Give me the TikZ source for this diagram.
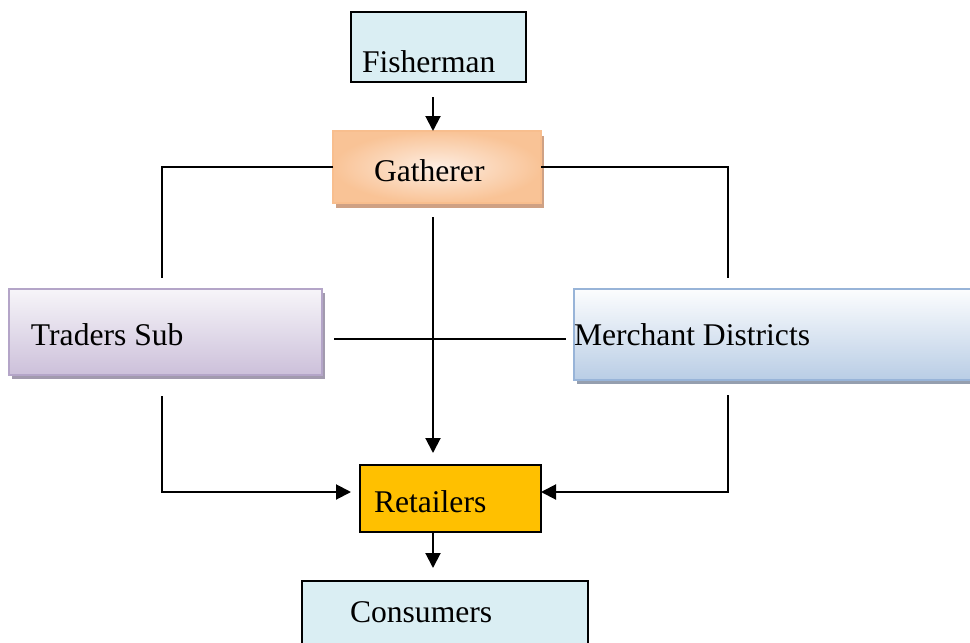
\documentclass[tikz,border=0pt]{standalone}
\usepackage{fontspec}
\setmainfont{Liberation Serif}
\usetikzlibrary{arrows.meta,shadows}
\definecolor{paleblue}{HTML}{DAEEF3}
\definecolor{retailgold}{HTML}{FFC000}
\definecolor{peachline}{HTML}{F8BE8E}
\definecolor{peachin}{HTML}{FDEDE1}
\definecolor{peachout}{HTML}{F9C396}
\definecolor{peachshadow}{HTML}{CFA184}
\definecolor{lilacline}{HTML}{B4A5C8}
\definecolor{lilactop}{HTML}{F7F5F9}
\definecolor{lilacbot}{HTML}{CCC0DA}
\definecolor{lilacshadow}{HTML}{A29AAE}
\definecolor{steelline}{HTML}{98B4D8}
\definecolor{steeltop}{HTML}{FCFDFE}
\definecolor{steelbot}{HTML}{B9CDE5}
\definecolor{steelshadow}{HTML}{959FAF}
\tikzstyle{every picture}+=[x=0.5pt,y=-0.5pt]
\tikzstyle{every picture}+=[>={Triangle[length=7.5pt,width=7.5pt]}]
\tikzstyle{every picture}+=[line width=1pt]
\tikzstyle{every picture}+=[join=miter]
\tikzstyle{stage}=[rectangle, inner sep=0pt, outer sep=0pt, line width=0.75pt]
\tikzstyle{pale}=[stage, draw=black, fill=paleblue]
\tikzstyle{gold}=[stage, draw=black, fill=retailgold]
\tikzstyle{peach}=[stage, draw=peachline, inner color=peachin, outer color=peachout]
\tikzstyle{peach}+=[drop shadow={shadow xshift=1.5pt, shadow yshift=-2.5pt, fill=peachshadow, opacity=1}]
\tikzstyle{lilac}=[stage, draw=lilacline, top color=lilactop, bottom color=lilacbot]
\tikzstyle{lilac}+=[drop shadow={shadow xshift=1.5pt, shadow yshift=-2pt, fill=lilacshadow, opacity=1}]
\tikzstyle{steel}=[stage, draw=steelline, top color=steeltop, bottom color=steelbot]
\tikzstyle{steel}+=[drop shadow={shadow xshift=1.5pt, shadow yshift=-2pt, fill=steelshadow, opacity=1}]
\tikzstyle{word}=[inner sep=0pt, anchor=base west, font=\fontsize{15.8}{19}\selectfont]

\begin{document}
\begin{tikzpicture}
\useasboundingbox (0,0) rectangle (970,643);

\node[pale, minimum width=87.5pt, minimum height=35pt] (fish) at (438.5,47) {};
\node[peach, minimum width=104pt, minimum height=36pt] (gath) at (437,167) {};
\node[lilac, minimum width=156.5pt, minimum height=43pt] (trad) at (165.5,332) {};
\node[steel, minimum width=205pt, minimum height=45.5pt] (merc) at (779,334.5) {};
\node[gold, minimum width=90.5pt, minimum height=33.5pt] (reta) at (450.5,498.5) {};
\node[pale, minimum width=143pt, minimum height=39pt] (cons) at (445,620) {};

\node[word] (fishtext) at (361,72) {Fisherman};
\node[word] (gathtext) at (373,181) {Gatherer};
\node[word] (tradtext) at (30,345) {Traders Sub};
\node[word] (merctext) at (573,345) {Merchant Districts};
\node[word] (retatext) at (373,512) {Retailers};
\node[word] (constext) at (349,622) {Consumers};

\coordinate (spine) at (433,0);
\coordinate (lcol) at (162,0);
\coordinate (rcol) at (728,0);
\coordinate (mid) at (0,339);
\coordinate (feed) at (0,492);

\path[->]
   (spine |- fish.south) edge[shorten <=7.5pt] (spine |- gath.north)
   (spine |- gath.south) edge[shorten <=7pt, shorten >=6pt] (spine |- reta.north)
   (spine |- reta.south) edge[shorten >=6.5pt] (spine |- cons.north)
;
\draw[shorten >=5.5pt] (gath.west) -| (lcol |- trad.north);
\draw[shorten >=5.5pt] (gath.east) -| (rcol |- merc.north);
\draw[shorten <=6pt, shorten >=4pt] (trad.east |- mid) -- (merc.west |- mid);
\draw[->, shorten <=10.5pt, shorten >=4.5pt] (lcol |- trad.south) |- (reta.west |- feed);
\draw[->, shorten <=7.5pt] (rcol |- merc.south) |- (reta.east |- feed);
\end{tikzpicture}
\end{document}
